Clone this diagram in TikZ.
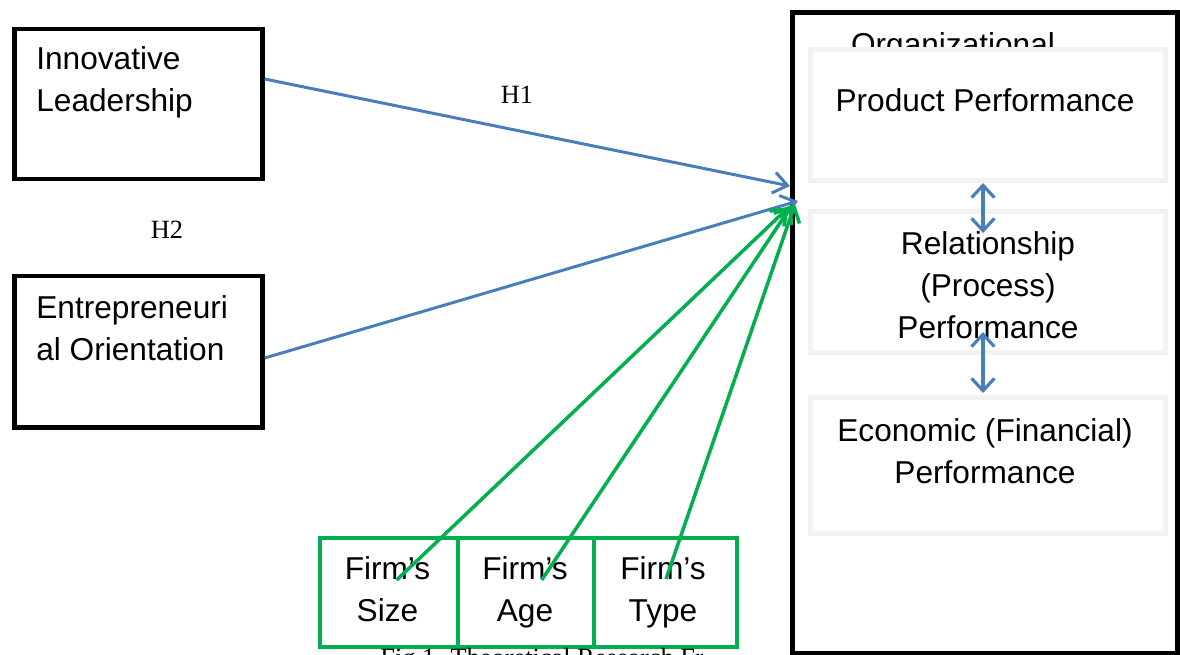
\documentclass[tikz,border=0pt]{standalone}
\usepackage{fontspec}
\setmainfont{Liberation Sans}
\newfontfamily\serifhyp{Liberation Serif}
\usetikzlibrary{arrows.meta}
\definecolor{hypblue}{HTML}{4A7EBB}
\definecolor{ctrlgreen}{HTML}{00B050}
\definecolor{perfgray}{HTML}{F2F2F2}

\begin{document}
\begin{tikzpicture}[x=0.02cm, y=-0.02cm,
    txt/.style={font=\fontsize{18}{23.8}\selectfont, inner sep=0pt, align=center},
    hlabel/.style={font=\serifhyp\fontsize{15}{18}\selectfont, inner sep=0pt},
    blackbox/.style={draw, line width=2.5pt, minimum width=4.96cm, inner sep=0pt},
    perfbox/.style={draw=perfgray, fill=white, line width=3pt, minimum width=7.1cm, inner sep=0pt},
    firmbox/.style={draw=ctrlgreen, line width=2.8pt, minimum height=2.18cm, inner sep=0pt},
    hyp/.style={draw=hypblue, line width=1.7pt, -{Straight Barb[length=8pt,width=12pt]}},
    link/.style={draw=hypblue, line width=1.8pt,
        {Straight Barb[length=7pt,width=13pt]}-{Straight Barb[length=7pt,width=13pt]}},
    ctrl/.style={draw=ctrlgreen, line width=2pt, -{Straight Barb[length=8pt,width=12pt]}}]

    \useasboundingbox (0,0) rectangle (1180,654);

    % left boxes
    \node[blackbox, minimum height=3cm] (lead) at (138.5,104) {};
    \node[blackbox, minimum height=3.03cm] (orient) at (138.5,351.75) {};
    \node[txt, align=left, anchor=base west] (leadtxt) at (36,111.7) {Innovative\\Leadership};
    \node[txt, align=left, anchor=base west] (orienttxt) at (36,360.7) {Entrepreneuri\\al Orientation};

    % outer box
    \node[draw, line width=2.5pt, minimum width=7.7cm, minimum height=12.82cm, inner sep=0pt] (org) at (985,333) {};
    \node[txt, anchor=base] (orgtxt) at (953,55) {Organizational};

    % performance boxes
    \node[perfbox, minimum height=2.61cm] (prod) at (988,115) {};
    \node[perfbox, minimum height=2.82cm] (rel) at (988,282) {};
    \node[perfbox, minimum height=2.72cm] (econ) at (988,465.5) {};
    \node[txt, anchor=base] (prodtxt) at (985,111) {Product Performance};
    \node[txt, anchor=base] (reltxt) at (988,338) {Relationship\\(Process)\\Performance};
    \node[txt, anchor=base] (econtxt) at (985,483) {Economic (Financial)\\Performance};

    % double arrows
    \coordinate (linkA) at (983,183);
    \coordinate (linkB) at (983,233);
    \coordinate (linkC) at (983,332);
    \coordinate (linkD) at (983,393);
    \draw[link] (linkA) -- (linkB);
    \draw[link] (linkC) -- (linkD);

    % firm boxes
    \foreach \name/\x/\w/\tx/\word in {size/389/2.76/387.5/Size, age/526/2.72/525/Age, type/665.5/2.86/663/Type} {
        \node[firmbox, minimum width=\w cm] (\name) at (\x,592.5) {};
        \node[txt, anchor=base] (\name txt) at (\tx,621.7) {Firm’s\\\word};
    }

    % hypotheses
    \coordinate (h1head) at (790,186);
    \coordinate (h2head) at (798,201);
    \draw[hyp] ([yshift=0.5cm]lead.east) -- (h1head);
    \draw[hyp] ([yshift=-0.125cm]orient.east) -- (h2head);
    \node[hlabel, anchor=base] (h1) at (517,103) {H1};
    \node[hlabel, anchor=base] (h2) at (167,238) {H2};

    % controls
    \foreach \name/\tx/\ty/\hx/\hy in {size/396.7/580/789/207, age/541.7/580/792/205, type/666/579/795/204} {
        \coordinate (\name tail) at (\tx,\ty);
        \coordinate (\name head) at (\hx,\hy);
        \draw[ctrl] (\name tail) -- (\name head);
    }

    % caption (cut off)
    \begin{scope}
        \clip (300,640) rectangle (702,680);
        \node[hlabel, anchor=base west] (caption) at (380,666) {Fig 1. Theoretical Research Framework};
    \end{scope}
\end{tikzpicture}
\end{document}
